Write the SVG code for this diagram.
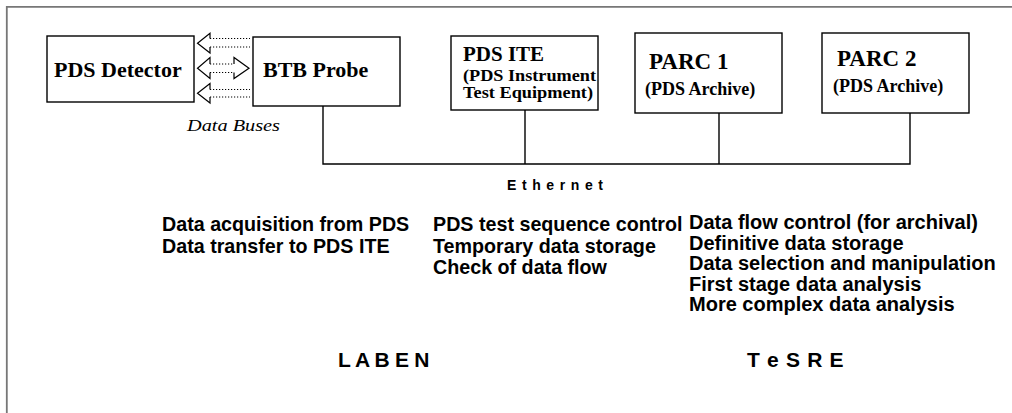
<svg xmlns="http://www.w3.org/2000/svg" width="1012" height="413" viewBox="0 0 1012 413">
<style>
.box{fill:#fff;stroke:#000;stroke-width:1.4}
.ser{font-family:"Liberation Serif","Times New Roman",serif;font-weight:bold;fill:#000}
.ss{font-family:"Liberation Sans",Arial,sans-serif;font-weight:bold;fill:#000}
.wire{fill:none;stroke:#000;stroke-width:1.4}
.dot{fill:none;stroke:#000;stroke-width:1.2;stroke-dasharray:1.2 1.8}
.head{fill:none;stroke:#000;stroke-width:1.2;stroke-linejoin:miter}
</style>
<rect width="1012" height="413" fill="#fff"/>
<path d="M6.8 413V6.8H1012" fill="none" stroke="#777" stroke-width="1.8"/>
<g id="connectors">
<path class="wire" d="M323 106V164H910V113M525 110V164M719 113V164"/>
<g id="data-buses">
<path class="head" d="M210 38.5V33.3L197.5 43.2L210 53V47"/>
<path class="dot" d="M210 38.5H250M210 47H250"/>
<path class="head" d="M210 64V57.5L197.5 68.2L210 78.5V72.5"/>
<path class="head" d="M234 64V57.5L249 68.2L234 78.5V72.5"/>
<path class="dot" d="M210 64H234M210 72.5H234"/>
<path class="head" d="M210 89.5V83.5L197.5 93.3L210 103V97"/>
<path class="dot" d="M210 89.5H250M210 97H250"/>
</g>
<text x="187" y="131" font-family="Liberation Serif,'Times New Roman',serif" font-style="italic" font-size="16" textLength="93" lengthAdjust="spacingAndGlyphs" fill="#000">Data Buses</text>
<text class="ss" x="507" y="190" font-size="14" letter-spacing="0.85">E t h e r n e t</text>
</g>
<g id="pds-detector">
<rect class="box" x="47" y="36" width="147" height="66"/>
<text class="ser" x="54" y="77" font-size="22">PDS Detector</text>
</g>
<g id="btb-probe">
<rect class="box" x="253" y="37" width="147" height="69"/>
<text class="ser" x="263" y="77" font-size="22">BTB Probe</text>
</g>
<g id="pds-ite">
<rect class="box" x="451" y="36" width="147" height="74"/>
<text class="ser" x="463" y="61" font-size="21">PDS ITE</text>
<text class="ser" x="463" y="80.5" font-size="17" textLength="133" lengthAdjust="spacingAndGlyphs">(PDS Instrument</text>
<text class="ser" x="463" y="98" font-size="17" textLength="130" lengthAdjust="spacingAndGlyphs">Test Equipment)</text>
</g>
<g id="parc1">
<rect class="box" x="635" y="33" width="147" height="80"/>
<text class="ser" x="649" y="69" font-size="23">PARC 1</text>
<text class="ser" x="645" y="95" font-size="18">(PDS Archive)</text>
</g>
<g id="parc2">
<rect class="box" x="822" y="33" width="147" height="80"/>
<text class="ser" x="837" y="66" font-size="23">PARC 2</text>
<text class="ser" x="833" y="92" font-size="18">(PDS Archive)</text>
</g>
<g id="laben-tasks" class="ss" font-size="19.7">
<text x="162" y="231">Data acquisition from PDS</text>
<text x="162" y="253">Data transfer to PDS ITE</text>
</g>
<g id="ite-tasks" class="ss" font-size="19.7">
<text x="433" y="231">PDS test sequence control</text>
<text x="433" y="253">Temporary data storage</text>
<text x="433" y="274">Check of data flow</text>
</g>
<g id="tesre-tasks" class="ss" font-size="20">
<text x="689" y="229">Data flow control (for archival)</text>
<text x="689" y="249.5">Definitive data storage</text>
<text x="689" y="270">Data selection and manipulation</text>
<text x="689" y="290.5">First stage data analysis</text>
<text x="689" y="311">More complex data analysis</text>
</g>
<g id="orgs" class="ss" font-size="21">
<text x="338" y="367" letter-spacing="-0.3">L A B E N</text>
<text x="747" y="367" letter-spacing="0.7">T e S R E</text>
</g>
</svg>
